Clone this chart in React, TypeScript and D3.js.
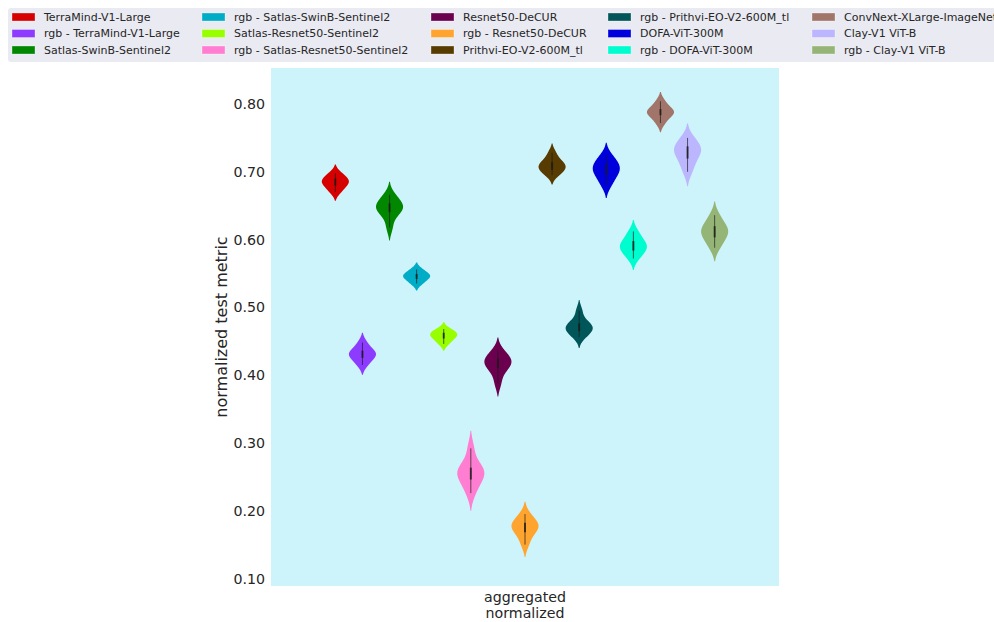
import React, { useMemo } from "react";
import * as d3 from "d3";

// Model names (hue order) and their colours
const models = [
  "TerraMind-V1-Large",
  "rgb - TerraMind-V1-Large",
  "Satlas-SwinB-Sentinel2",
  "rgb - Satlas-SwinB-Sentinel2",
  "Satlas-Resnet50-Sentinel2",
  "rgb - Satlas-Resnet50-Sentinel2",
  "Resnet50-DeCUR",
  "rgb - Resnet50-DeCUR",
  "Prithvi-EO-V2-600M_tl",
  "rgb - Prithvi-EO-V2-600M_tl",
  "DOFA-ViT-300M",
  "rgb - DOFA-ViT-300M",
  "ConvNext-XLarge-ImageNet-22k",
  "Clay-V1 ViT-B",
  "rgb - Clay-V1 ViT-B",
];

const colors = [
  "#d60000", "#8c3bff", "#018700", "#00acc6", "#97ff00",
  "#ff7ed1", "#6b004f", "#ffa52f", "#573b00", "#005659",
  "#0000dd", "#00fdcf", "#a17569", "#bcb6ff", "#95b577",
];

// Bootstrapped aggregated normalized scores per model
const terraMind = [0.670, 0.677, 0.682, 0.685, 0.688, 0.692, 0.698];
const rgbTerraMind = [0.415, 0.423, 0.428, 0.431, 0.434, 0.438, 0.448];
const satlasSwinB = [0.618, 0.636, 0.642, 0.646, 0.649, 0.652, 0.658, 0.666];
const rgbSatlasSwinB = [0.535, 0.541, 0.545, 0.547, 0.550, 0.556];
const satlasResnet50 = [0.446, 0.452, 0.456, 0.459, 0.461, 0.464, 0.468];
const rgbSatlasResnet50 = [0.226, 0.240, 0.248, 0.254, 0.258, 0.262, 0.268, 0.292];
const resnet50DeCUR = [0.388, 0.405, 0.412, 0.417, 0.420, 0.423, 0.428, 0.436];
const rgbResnet50DeCUR = [0.150, 0.163, 0.170, 0.175, 0.178, 0.181, 0.186, 0.195];
const prithvi = [0.695, 0.700, 0.704, 0.707, 0.710, 0.713, 0.718, 0.728];
const rgbPrithvi = [0.456, 0.462, 0.466, 0.469, 0.472, 0.475, 0.480, 0.495];
const dofa = [0.680, 0.690, 0.697, 0.702, 0.706, 0.710, 0.716, 0.724];
const rgbDofa = [0.572, 0.580, 0.585, 0.589, 0.592, 0.596, 0.603, 0.612];
const convNext = [0.772, 0.781, 0.786, 0.788, 0.790, 0.795, 0.804];
const clay = [0.700, 0.712, 0.722, 0.728, 0.732, 0.736, 0.742, 0.750];
const rgbClay = [0.588, 0.598, 0.605, 0.610, 0.614, 0.618, 0.625, 0.636];

const samples = [
  terraMind, rgbTerraMind, satlasSwinB, rgbSatlasSwinB, satlasResnet50,
  rgbSatlasResnet50, resnet50DeCUR, rgbResnet50DeCUR, prithvi, rgbPrithvi,
  dofa, rgbDofa, convNext, clay, rgbClay,
];

const yTicks = [0.1, 0.2, 0.3, 0.4, 0.5, 0.6, 0.7, 0.8];
const xCategory = ["aggregated", "normalized"];

const W = 994;
const H = 622;
const plot = { left: 271, right: 779, top: 68, bottom: 586 };
const FONT = "DejaVu Sans, sans-serif";
const TEXT = "#262626";

function kde(values: number[]) {
  const n = values.length;
  const sd = d3.deviation(values) ?? 0.01;
  const bw = sd * Math.pow(n, -1 / 5);
  const lo = (d3.min(values) as number) - 2 * bw;
  const hi = (d3.max(values) as number) + 2 * bw;
  const grid = d3.range(0, 101).map((i) => lo + ((hi - lo) * i) / 100);
  const dens = grid.map((g) =>
    d3.sum(values, (v) => Math.exp(-0.5 * ((g - v) / bw) ** 2)) / (n * bw * Math.sqrt(2 * Math.PI))
  );
  return grid.map((g, i) => ({ v: g, d: dens[i] }));
}

export default function App() {
  // y scale anchored on tick positions, extended to the plot frame
  const y = d3
    .scaleLinear()
    .domain([0.1, 0.8])
    .range([578.5, 104]);

  // one category taking 80% of the axis, split into one slot per model
  const band = d3
    .scaleBand()
    .domain(["agg"])
    .range([plot.left, plot.right])
    .paddingInner(0)
    .paddingOuter(0.125);

  const hue = d3
    .scaleBand()
    .domain(models)
    .range([0, band.bandwidth()]);

  const violins = useMemo(
    () =>
      samples.map((vals, i) => {
        const k = kde(vals);
        const maxD = d3.max(k, (p) => p.d) as number;
        const sorted = [...vals].sort(d3.ascending);
        return {
          k,
          maxD,
          q1: d3.quantileSorted(sorted, 0.25) as number,
          q3: d3.quantileSorted(sorted, 0.75) as number,
          lo: sorted[0],
          hi: sorted[sorted.length - 1],
          color: colors[i],
          name: models[i],
        };
      }),
    []
  );

  const half = hue.bandwidth() / 2;

  // legend layout: 5 columns x 3 rows, column-major fill
  const legendColX = [12, 202, 431, 608, 812];
  const legendRowY = [17, 33.5, 50];

  return (
    <svg
      width={W}
      height={H}
      style={{ position: "absolute", left: 0, top: 0, fontFamily: FONT }}
    >
      <rect x={0} y={0} width={W} height={H} fill="#ffffff" />
      <rect
        x={plot.left}
        y={plot.top}
        width={plot.right - plot.left}
        height={plot.bottom - plot.top}
        fill="#cef4fb"
      />

      {violins.map((vl) => {
        const cx = (band("agg") as number) + (hue(vl.name) as number) + half;
        const w = d3.scaleLinear().domain([0, vl.maxD]).range([0, half]);
        const area = d3
          .area<{ v: number; d: number }>()
          .y((p) => y(p.v))
          .x0((p) => cx - w(p.d))
          .x1((p) => cx + w(p.d))
          .curve(d3.curveLinear);
        return (
          <g key={vl.name}>
            <path d={area(vl.k) ?? ""} fill={vl.color} />
            <line
              x1={cx}
              x2={cx}
              y1={y(vl.lo)}
              y2={y(vl.hi)}
              stroke="#1a1a1a"
              strokeOpacity={0.75}
              strokeWidth={0.9}
            />
            <line
              x1={cx}
              x2={cx}
              y1={y(vl.q1)}
              y2={y(vl.q3)}
              stroke="#1a1a1a"
              strokeOpacity={0.8}
              strokeWidth={1.9}
            />
          </g>
        );
      })}

      {yTicks.map((t) => (
        <text
          key={t}
          x={265}
          y={y(t)}
          dy="0.36em"
          textAnchor="end"
          fontSize={14.2}
          fill={TEXT}
        >
          {t.toFixed(2)}
        </text>
      ))}

      <text
        transform={`translate(227,${(plot.top + plot.bottom) / 2}) rotate(-90)`}
        textAnchor="middle"
        fontSize={16}
        fill={TEXT}
      >
        normalized test metric
      </text>

      {xCategory.map((s, i) => (
        <text
          key={s}
          x={(band("agg") as number) + band.bandwidth() / 2}
          y={602 + i * 16}
          textAnchor="middle"
          fontSize={14.2}
          fill={TEXT}
        >
          {s}
        </text>
      ))}

      {/* legend */}
      <rect x={8} y={8} width={1010} height={54} rx={3} fill="#eaeaf2" />
      {models.map((m, i) => {
        const col = Math.floor(i / 3);
        const row = i % 3;
        const lx = legendColX[col];
        const ly = legendRowY[row];
        return (
          <g key={m}>
            <rect
              x={lx}
              y={ly - 4}
              width={23}
              height={8}
              fill={colors[i]}
              stroke="#ffffff"
              strokeOpacity={0.4}
              strokeWidth={0.8}
            />
            <text x={lx + 32} y={ly} dy="0.35em" fontSize={11} fill={TEXT}>
              {m}
            </text>
          </g>
        );
      })}
    </svg>
  );
}
